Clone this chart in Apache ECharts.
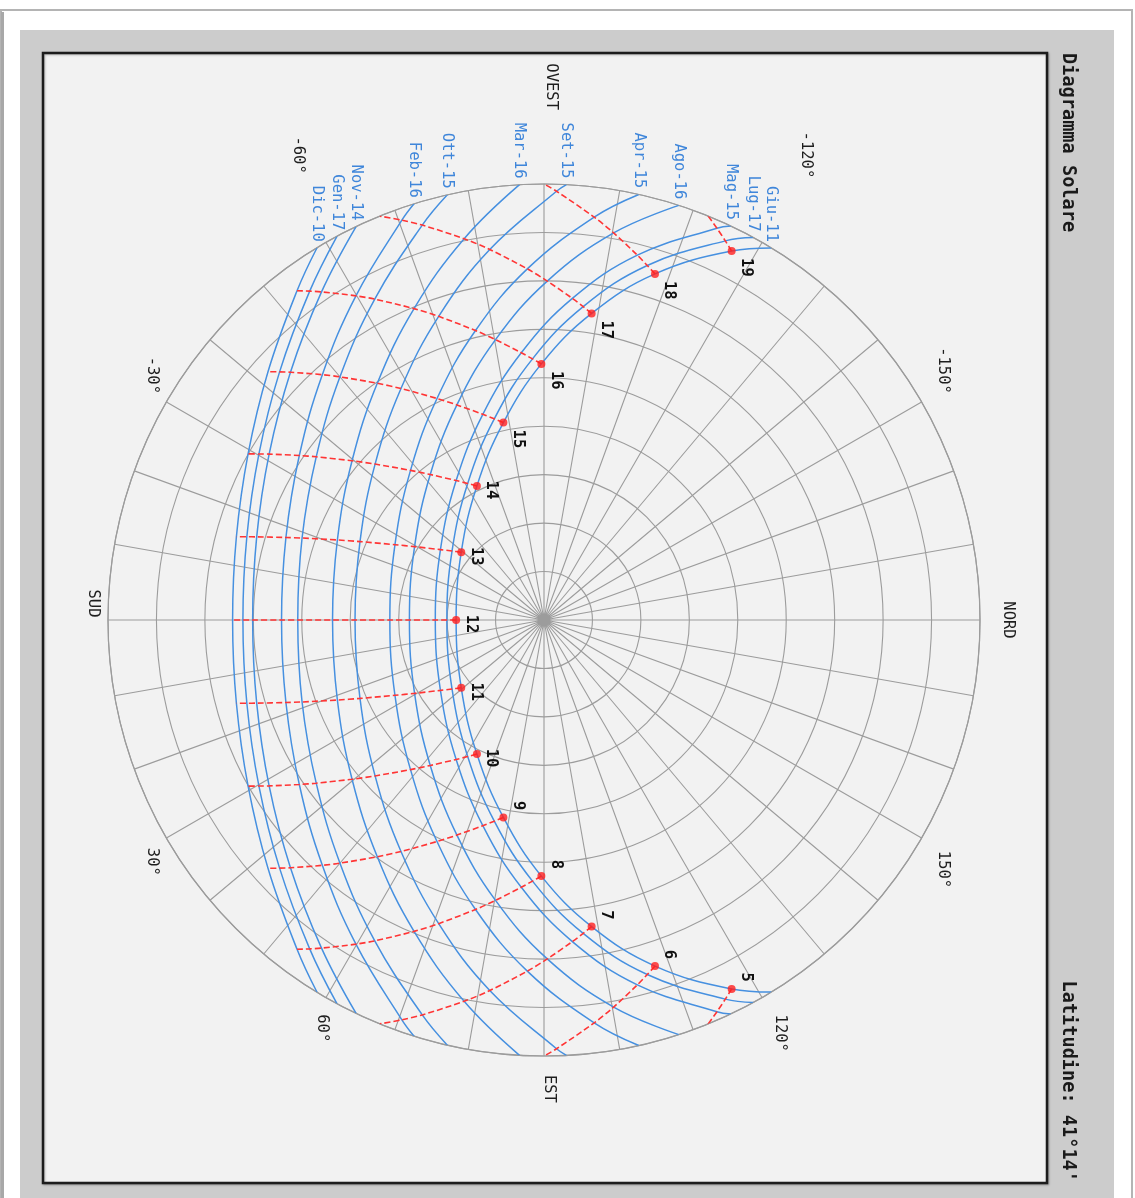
<!DOCTYPE html>
<html>
<head>
<meta charset="utf-8">
<title>Diagramma Solare</title>
<script src="https://cdn.jsdelivr.net/npm/echarts@6/dist/echarts.min.js"></script>
<style>
  html, body { margin: 0; padding: 0; background: #ffffff; }
  #main { width: 1135px; height: 1198px; }
</style>
</head>
<body>
<div id="main"></div>
<script>
// percorsi solari: [ora solare, azimut (0 = Sud, + = Est), distanza zenitale]
var giu11 = [[4.54,121.43,90],[5,116.96,85.44],[6,107.78,75.02],[7,98.83,64.05],[8,89.41,52.87],[9,78.38,41.61],[10,63.42,30.95],[11,39.32,22.08],[12,0,18.14],[13,-39.32,22.08],[14,-63.42,30.95],[15,-78.38,41.61],[16,-89.41,52.87],[17,-98.83,64.05],[18,-107.78,75.02],[19,-116.96,85.44],[19.46,-121.43,90]];
var lug17 = [[4.68,118.71,90],[5,115.56,86.75],[6,106.24,76.22],[7,97.13,65.19],[8,87.48,53.95],[9,76.12,42.78],[10,60.80,32.29],[11,36.86,23.73],[12,0,20.05],[13,-36.86,23.73],[14,-60.80,32.29],[15,-76.12,42.78],[16,-87.48,53.95],[17,-97.13,65.19],[18,-106.24,76.22],[19,-115.56,86.75],[19.32,-118.71,90]];
var mag15 = [[4.84,115.36,90],[5,113.82,88.39],[6,104.35,77.74],[7,95.04,66.64],[8,85.14,55.37],[9,73.44,44.30],[10,57.79,34.02],[11,34.21,25.85],[12,0,22.44],[13,-34.21,25.85],[14,-57.79,34.02],[15,-73.44,44.30],[16,-85.14,55.37],[17,-95.04,66.64],[18,-104.35,77.74],[19,-113.82,88.39],[19.16,-115.36,90]];
var ago16 = [[5.19,108.02,90],[6,100.20,81.18],[7,90.55,69.96],[8,80.19,58.73],[9,67.96,47.90],[10,51.98,38.12],[11,29.54,30.71],[12,0,27.78],[13,-29.54,30.71],[14,-51.98,38.12],[15,-67.96,47.90],[16,-80.19,58.73],[17,-90.55,69.96],[18,-100.20,81.18],[18.81,-108.02,90]];
var apr15 = [[5.44,102.56,90],[6,97.10,83.81],[7,87.28,72.56],[8,76.69,61.40],[9,64.22,50.78],[10,48.26,41.39],[11,26.81,34.47],[12,0,31.82],[13,-26.81,34.47],[14,-48.26,41.39],[15,-64.22,50.78],[16,-76.69,61.40],[17,-87.28,72.56],[18,-97.10,83.81],[18.56,-102.56,90]];
var set15 = [[5.87,92.95,90],[6,91.67,88.54],[7,81.67,77.29],[8,70.87,66.34],[9,58.29,56.16],[10,42.71,47.45],[11,23.08,41.29],[12,0,39.01],[13,-23.08,41.29],[14,-42.71,47.45],[15,-58.29,56.16],[16,-70.87,66.34],[17,-81.67,77.29],[18,-91.67,88.54],[18.13,-92.95,90]];
var mar16 = [[6.14,86.78,90],[7,78.17,80.41],[8,67.35,69.65],[9,54.85,59.77],[10,39.68,51.48],[11,21.17,45.74],[12,0,43.65],[13,-21.17,45.74],[14,-39.68,51.48],[15,-54.85,59.77],[16,-67.35,69.65],[17,-78.17,80.41],[17.86,-86.78,90]];
var ott15 = [[6.57,77.19,90],[7,72.87,85.30],[8,62.19,74.88],[9,50.00,65.52],[10,35.62,57.84],[11,18.72,52.73],[12,0,50.83],[13,-18.72,52.73],[14,-35.62,57.84],[15,-50.00,65.52],[16,-62.19,74.88],[17,-72.87,85.30],[17.43,-77.19,90]];
var feb16 = [[6.78,72.66,90],[7,70.43,87.59],[8,59.88,77.36],[9,47.90,68.25],[10,33.91,60.86],[11,17.73,55.93],[12,0,54.18],[13,-17.73,55.93],[14,-33.91,60.86],[15,-47.90,68.25],[16,-59.88,77.36],[17,-70.43,87.59],[17.22,-72.66,90]];
var nov14 = [[7.16,64.47,90],[8,55.86,81.83],[9,44.34,73.18],[10,31.11,66.27],[11,16.14,61.74],[12,0,60.14],[13,-16.14,61.74],[14,-31.11,66.27],[15,-44.34,73.18],[16,-55.86,81.83],[16.84,-64.47,90]];
var gen17 = [[7.30,61.65,90],[8,54.53,83.35],[9,43.18,74.85],[10,30.22,68.10],[11,15.65,63.70],[12,0,62.15],[13,-15.65,63.70],[14,-30.22,68.10],[15,-43.18,74.85],[16,-54.53,83.35],[16.70,-61.65,90]];
var dic10 = [[7.46,58.63,90],[8,53.13,84.96],[9,41.97,76.63],[10,29.31,70.05],[11,15.14,65.78],[12,0,64.28],[13,-15.14,65.78],[14,-29.31,70.05],[15,-41.97,76.63],[16,-53.13,84.96],[16.54,-58.63,90]];

var dateNames = ['Giu-11', 'Lug-17', 'Mag-15', 'Ago-16', 'Apr-15', 'Set-15', 'Mar-16', 'Ott-15', 'Feb-16', 'Nov-14', 'Gen-17', 'Dic-10'];
var sunPaths = [giu11, lug17, mag15, ago16, apr15, set15, mar16, ott15, feb16, nov14, gen17, dic10];

// ore segnate sul percorso del solstizio d'estate
var hourList = [5, 6, 7, 8, 9, 10, 11, 12, 13, 14, 15, 16, 17, 18, 19];
// dove le linee orarie toccano l'orizzonte
var horizonHours = [5, 6, 7, 17, 18, 19];
var horizonAz = [112.12, 90, 67.88, -67.88, -90, -112.12];

// direzioni principali (ogni 30 gradi)
var majorAz = [-180, -150, -120, -90, -60, -30, 0, 30, 60, 90, 120, 150];

// etichette dei punti cardinali e degli azimut: [testo, azimut, distanza]
var compassLabels = [['OVEST', -90.75, 110.1], ['EST', 90.6, 96.8], ['NORD', 180, 95.8], ['SUD', -2.1, 93.05]];
var degreeLabels = [['-120°', -119.4, 110.2], ['-150°', -148, 97.2], ['150°', 148, 97.2], ['120°', 119.7, 98.2],
                    ['60°', 61.5, 95.9], ['30°', 31.7, 95], ['-30°', -32, 95.3], ['-60°', -62.1, 108.6]];

var titleText = 'Diagramma Solare';
var latitudeText = "Latitudine: 41°14'";

var BLUE = '#4690e0';
var RED = '#ff3535';
var GRID = '#9c9c9c';
var FONT = '"DejaVu Sans Mono", monospace';

var chart = echarts.init(document.getElementById('main'));

var series = [];

// percorsi del sole (blu)
sunPaths.forEach(function (p, i) {
    series.push({
        name: dateNames[i],
        type: 'line',
        coordinateSystem: 'polar',
        data: p.map(function (q) { return [q[2], q[1]]; }),
        smooth: 0.4,
        symbol: 'none',
        clip: false,
        silent: true,
        lineStyle: { color: BLUE, width: 1.5 },
        z: 3
    });
});

// linee orarie (rosse tratteggiate)
hourList.forEach(function (h) {
    var pts = [];
    sunPaths.forEach(function (p) {
        p.forEach(function (q) {
            if (q[0] === h) pts.push([q[2], q[1]]);
        });
    });
    var k = horizonHours.indexOf(h);
    if (k >= 0) pts.push([90, horizonAz[k]]);
    series.push({
        type: 'line',
        coordinateSystem: 'polar',
        data: pts,
        smooth: 0.3,
        symbol: 'none',
        clip: false,
        silent: true,
        lineStyle: { color: RED, width: 1.6, type: [6, 3] },
        z: 4
    });
});

// prolungamento delle direzioni principali oltre l'orizzonte
majorAz.forEach(function (a) {
    series.push({
        type: 'line',
        coordinateSystem: 'polar',
        data: [[90, a], [92, a]],
        symbol: 'none',
        clip: false,
        silent: true,
        lineStyle: { color: GRID, width: 1.2 },
        z: 2
    });
});

// punti orari sul 11 giugno
var dotData = giu11.filter(function (q) { return hourList.indexOf(q[0]) >= 0; });
var dotIndex = series.length;
series.push({
    type: 'scatter',
    coordinateSystem: 'polar',
    data: dotData.map(function (q) { return [q[2], q[1]]; }),
    symbolSize: 8,
    itemStyle: { color: '#ff1f1f' },
    silent: true,
    z: 5
});

var background = [
    { type: 'rect', z: 0, shape: { x: 1, y: 10, width: 1131, height: 1192 },
      style: { fill: '#ffffff', stroke: '#b4b4b4', lineWidth: 2 } },
    { type: 'rect', z: 0, shape: { x: 1, y: 12, width: 3, height: 1190 },
      style: { fill: '#a8a8a8' } },
    { type: 'rect', z: 0, shape: { x: 20, y: 30, width: 1094, height: 1170 },
      style: { fill: '#cccccc' } },
    { type: 'rect', z: 0, shape: { x: 43, y: 53, width: 1004, height: 1130 },
      style: { fill: '#f2f2f2', stroke: '#1c1c1c', lineWidth: 2.5,
               shadowColor: 'rgba(0,0,0,0.25)', shadowBlur: 2, shadowOffsetX: 1, shadowOffsetY: 1 } }
];

chart.setOption({
    animation: false,
    backgroundColor: '#ffffff',
    polar: { center: [544, 620], radius: 436, z: 1 },
    angleAxis: {
        type: 'value',
        min: -180,
        max: 180,
        interval: 10,
        startAngle: 0,
        clockwise: false,
        z: 1,
        axisLine: { show: true, lineStyle: { color: GRID, width: 1.2 } },
        axisTick: { show: false },
        axisLabel: { show: false },
        splitLine: { show: true, lineStyle: { color: GRID, width: 1.1 } }
    },
    radiusAxis: {
        type: 'value',
        min: 0,
        max: 90,
        interval: 10,
        z: 1,
        axisLine: { show: false },
        axisTick: { show: false },
        axisLabel: { show: false },
        splitLine: { show: true, lineStyle: { color: GRID, width: 1.1 } }
    },
    graphic: { elements: background },
    series: series
});

function pt(zen, az) {
    return chart.convertToPixel({ seriesIndex: dotIndex }, [zen, az]);
}

function vText(text, x, y, align, font, color) {
    return {
        type: 'text', z: 10, x: x, y: y, rotation: -Math.PI / 2, silent: true,
        style: { text: text, font: font, fill: color, align: align, verticalAlign: 'middle' }
    };
}

var texts = [];

// numeri delle ore accanto ai punti
dotData.forEach(function (q) {
    var p = pt(q[2], q[1]);
    var h = q[0];
    var y = p[1] + 4, align = 'center';
    if (h >= 15) { y = p[1] + 7; align = 'left'; }
    if (h <= 9) { y = p[1] - 7; align = 'right'; }
    texts.push(vText(String(h), p[0] + 14.5, y, align, 'bold 15.5px ' + FONT, '#111111'));
});

// nomi delle date alla fine di ogni percorso
sunPaths.forEach(function (path, i) {
    var end = path[path.length - 1];
    var p = pt(end[2], end[1]);
    texts.push(vText(dateNames[i], p[0], p[1] - 6, 'right', '15.5px ' + FONT, '#3f86da'));
});

compassLabels.concat(degreeLabels).forEach(function (l) {
    var p = pt(l[2], l[1]);
    texts.push(vText(l[0], p[0], p[1], 'center', '15.5px ' + FONT, '#1e1e1e'));
});

texts.push(vText(titleText, 1068, 53, 'left', 'bold 18.6px ' + FONT, '#1a1a1a'));
texts.push(vText(latitudeText, 1068, 1182, 'right', 'bold 18.6px ' + FONT, '#1a1a1a'));

chart.setOption({ graphic: { elements: background.concat(texts) } });
</script>
</body>
</html>
